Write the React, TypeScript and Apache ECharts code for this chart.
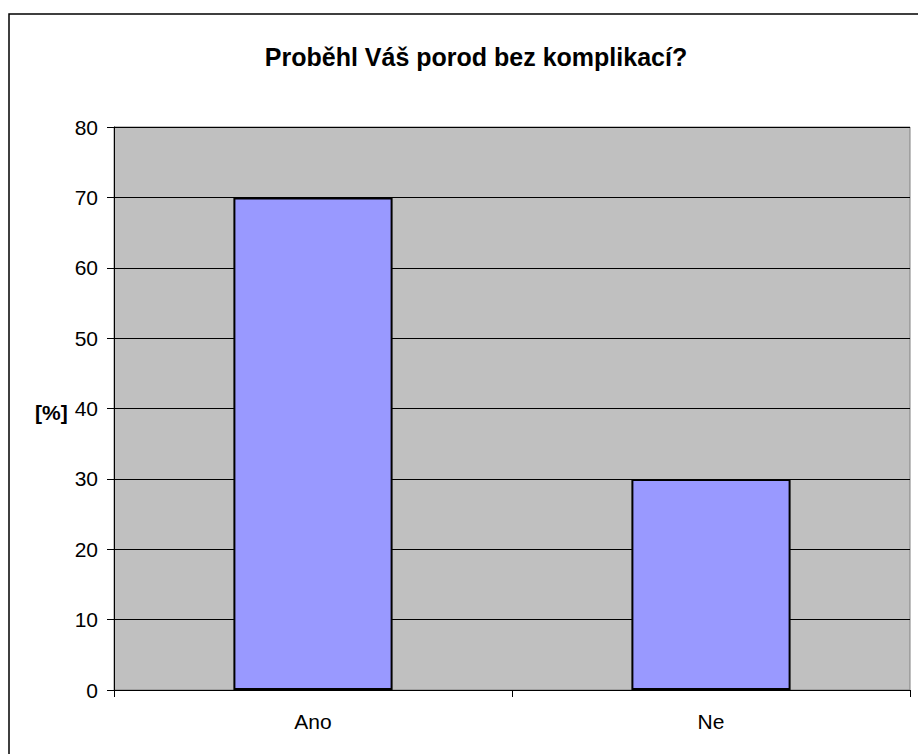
import React, { useEffect, useRef } from "react";
import * as echarts from "echarts";

const categories = ["Ano", "Ne"];
const values = [70, 30];
const yTicks = { min: 0, max: 80, interval: 10 };
const titleText = "Proběhl Váš porod bez komplikací?";
const yName = "[%]";

export default function App() {
  const ref = useRef<HTMLDivElement>(null);
  useEffect(() => {
    const chart = echarts.init(ref.current!, null, { renderer: "svg" });
    chart.setOption({
      animation: false,
      backgroundColor: "#ffffff",
      title: {
        text: titleText,
        left: 471,
        top: 39,
        textAlign: "center",
        textStyle: { fontFamily: "Liberation Sans, Arial", fontWeight: "bold", fontSize: 25, color: "#000" },
      },
      graphic: [
        {
          type: "rect",
          shape: { x: 9, y: 14, width: 1000, height: 1000 },
          style: { fill: "none", stroke: "#000", lineWidth: 1.5 },
          silent: true,
        },
        {
          type: "text",
          x: 35,
          y: 412,
          style: {
            text: yName,
            font: "bold 21px 'Liberation Sans', Arial",
            fill: "#000",
            verticalAlign: "middle",
          },
        },
      ],
      grid: {
        left: 114,
        top: 127,
        right: 8,
        bottom: 64,
        show: true,
        backgroundColor: "#C0C0C0",
        borderColor: "#808080",
        borderWidth: 1,
        containLabel: false,
      },
      xAxis: {
        type: "category",
        data: categories,
        boundaryGap: true,
        axisLine: { show: true, lineStyle: { color: "#000", width: 1 } },
        axisTick: { show: true, length: 7, lineStyle: { color: "#000" }, alignWithLabel: false },
        axisLabel: { fontFamily: "Liberation Sans, Arial", fontSize: 21, color: "#000", margin: 21 },
        splitLine: { show: false },
      },
      yAxis: {
        type: "value",
        min: yTicks.min,
        max: yTicks.max,
        interval: yTicks.interval,
        axisLine: { show: true, lineStyle: { color: "#000", width: 1 } },
        axisTick: { show: true, length: 7, lineStyle: { color: "#000" } },
        axisLabel: { fontFamily: "Liberation Sans, Arial", fontSize: 21, color: "#000", margin: 16 },
        splitLine: { show: true, lineStyle: { color: "#000", width: 1 } },
      },
      series: [
        {
          type: "bar",
          data: values,
          barWidth: "40%",
          itemStyle: { color: "#9999FF", borderColor: "#000", borderWidth: 2 },
        },
      ],
    });
    return () => chart.dispose();
  }, []);
  return (
    <div
      ref={ref}
      style={{ position: "fixed", left: 0, top: 0, width: 918, height: 754 }}
    />
  );
}
